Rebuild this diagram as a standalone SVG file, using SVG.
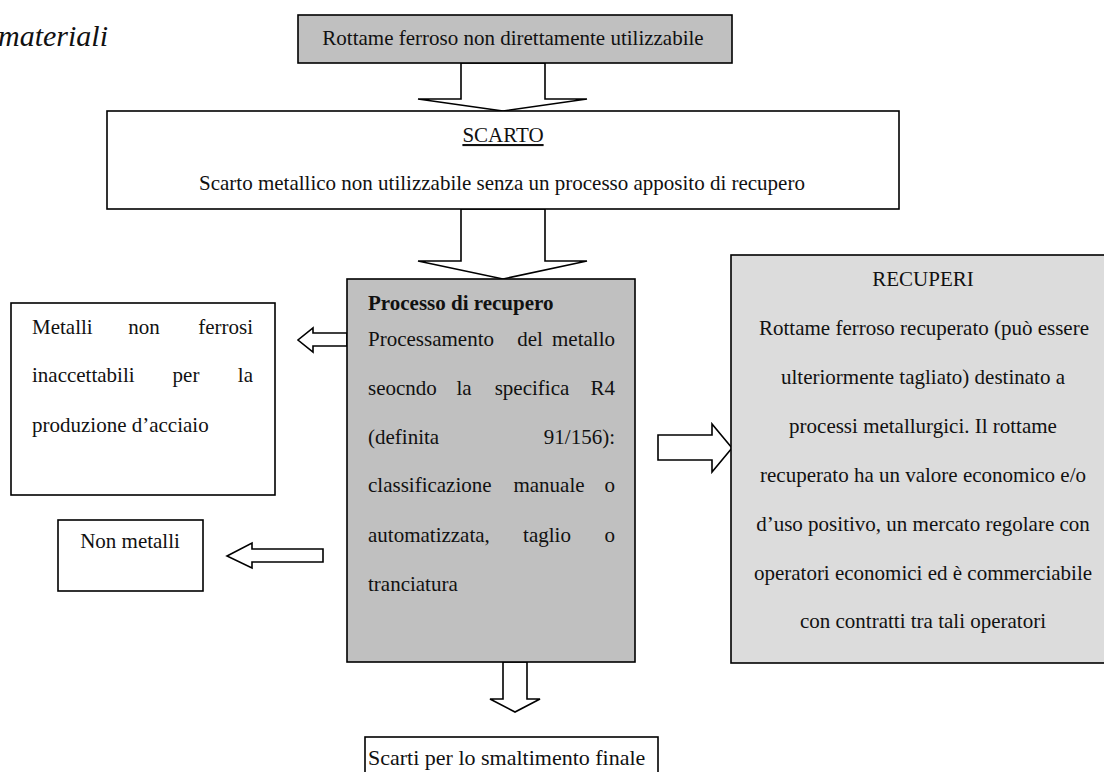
<svg xmlns="http://www.w3.org/2000/svg" width="1104" height="772" viewBox="0 0 1104 772">
<style>
.box{stroke:#000;stroke-width:1.6}
.w{fill:#fff}
.g{fill:#c0c0c0}
.lg{fill:#dcdcdc}
.arr{fill:#fff;stroke:#000;stroke-width:1.6;stroke-linejoin:miter}
text{font-family:"Liberation Serif","Times New Roman",serif;font-size:21px;fill:#111}
.c{text-anchor:middle}
.e{text-anchor:end}
.b{font-weight:bold}
</style>
<rect x="0" y="0" width="1104" height="772" fill="#fff"/>
<text x="108" y="46" class="e" style="font-family:'Liberation Serif',serif;font-style:italic;font-size:30px">materiali</text>

<g id="connectors">
<polygon class="arr" points="461,63 461,99 418,99 503,111 587,99 545,99 545,63"/>
<polygon class="arr" points="461,209 461,261 418,261 503,279 587,261 545,261 545,209"/>
<polygon class="arr" points="347,333 313,333 313,328 298,340 313,352 313,346 347,346"/>
<polygon class="arr" points="658,435 712,435 712,424 732,448 712,472 712,460 658,460"/>
<polygon class="arr" points="323,549 252,549 252,543 227,556 252,568 252,562 323,562"/>
<polygon class="arr" points="503,662 503,699 490,699 515,712 540,699 527,699 527,662"/>
</g>

<g id="node-rottame">
<rect class="box g" x="298" y="15" width="434" height="48"/>
<text x="513" y="45" class="c">Rottame ferroso non direttamente utilizzabile</text>
</g>

<g id="node-scarto">
<rect class="box w" x="107" y="111" width="792" height="98"/>
<text x="503" y="142" class="c" text-decoration="underline">SCARTO</text>
<text x="502" y="190" class="c">Scarto metallico non utilizzabile senza un processo apposito di recupero</text>
</g>

<g id="node-processo">
<rect class="box g" x="347" y="279" width="288" height="383"/>
<text x="368" y="310" class="b">Processo di recupero</text>
<text x="368" y="346">Processamento</text><text x="530" y="346" class="c">del</text><text x="615" y="346" class="e">metallo</text>
<text x="368" y="395">seocndo</text><text x="464" y="395" class="c">la</text><text x="532" y="395" class="c">specifica</text><text x="615" y="395" class="e">R4</text>
<text x="368" y="444">(definita</text><text x="615" y="444" class="e">91/156):</text>
<text x="368" y="492">classificazione</text><text x="549" y="492" class="c">manuale</text><text x="615" y="492" class="e">o</text>
<text x="368" y="542">automatizzata,</text><text x="547" y="542" class="c">taglio</text><text x="615" y="542" class="e">o</text>
<text x="368" y="591">tranciatura</text>
</g>

<g id="node-metalli">
<rect class="box w" x="11" y="303" width="264" height="192"/>
<text x="32" y="334">Metalli</text><text x="144" y="334" class="c">non</text><text x="253" y="334" class="e">ferrosi</text>
<text x="32" y="382">inaccettabili</text><text x="186" y="382" class="c">per</text><text x="253" y="382" class="e">la</text>
<text x="32" y="432">produzione d’acciaio</text>
</g>

<g id="node-nonmetalli">
<rect class="box w" x="58" y="520" width="145" height="71"/>
<text x="130" y="548" class="c">Non metalli</text>
</g>

<g id="node-recuperi">
<rect class="box lg" x="731" y="255" width="385" height="408"/>
<text x="923" y="286" class="c">RECUPERI</text>
<text x="924" y="335" class="c">Rottame ferroso recuperato (può essere</text>
<text x="923" y="384" class="c">ulteriormente tagliato) destinato a</text>
<text x="923" y="433" class="c">processi metallurgici. Il rottame</text>
<text x="923" y="482" class="c">recuperato ha un valore economico e/o</text>
<text x="923" y="531" class="c">d’uso positivo, un mercato regolare con</text>
<text x="923" y="580" class="c">operatori economici ed è commerciabile</text>
<text x="923" y="628" class="c">con contratti tra tali operatori</text>
</g>

<g id="node-scarti">
<rect class="box w" x="365" y="737" width="293" height="60"/>
<text x="368" y="765" style="font-size:22px">Scarti per lo smaltimento finale</text>
</g>
</svg>
